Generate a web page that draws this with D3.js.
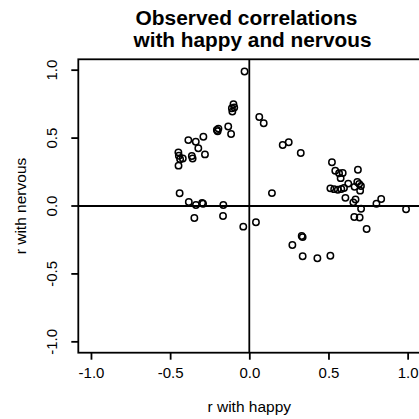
<!DOCTYPE html>
<html>
<head>
<meta charset="utf-8">
<script src="https://cdn.jsdelivr.net/npm/d3@7"></script>
<style>
html, body { margin: 0; padding: 0; background: #fff; }
svg { display: block; }
text { font-family: "Liberation Sans", Arial, Helvetica, sans-serif; fill: #000; }
</style>
</head>
<body>
<svg id="chart" width="419" height="419"></svg>
<script>
// r with happy
const happy = [
  -0.03,
  -0.10, -0.11, -0.095, -0.107,
  -0.205, -0.195, -0.20,
  -0.133, -0.115,
  -0.385, -0.338, -0.29,
  -0.322, -0.28,
  -0.363, -0.358,
  -0.448, -0.445, -0.42, -0.437,
  -0.447,
  -0.44, -0.382, -0.337, -0.298, -0.292, -0.164,
  -0.347, -0.166, -0.038, 0.042,
  0.063, 0.091,
  0.211, 0.249, 0.325,
  0.143,
  0.522,
  0.543, 0.567, 0.59, 0.577,
  0.686, 0.625,
  0.682, 0.694, 0.705, 0.665,
  0.70,
  0.512, 0.536, 0.559, 0.581, 0.598,
  0.607, 0.671, 0.657, 0.706,
  0.803, 0.833, 0.99,
  0.663, 0.697, 0.741,
  0.331, 0.337, 0.272, 0.337, 0.43, 0.512
];
// r with nervous
const nervous = [
  0.99,
  0.75, 0.72, 0.725, 0.695,
  0.56, 0.57, 0.55,
  0.585, 0.53,
  0.485, 0.473, 0.51,
  0.425, 0.38,
  0.368, 0.35,
  0.395, 0.37, 0.35, 0.345,
  0.297,
  0.094, 0.03, 0.007, 0.023, 0.017, 0.007,
  -0.088, -0.074, -0.152, -0.12,
  0.655, 0.609,
  0.449, 0.469, 0.39,
  0.095,
  0.322,
  0.26, 0.241, 0.243, 0.205,
  0.267, 0.165,
  0.177, 0.163, 0.147, 0.141,
  0.113,
  0.13, 0.124, 0.12, 0.125, 0.133,
  0.06, 0.048, 0.027, -0.02,
  0.017, 0.052, -0.024,
  -0.081, -0.085, -0.169,
  -0.221, -0.229, -0.287, -0.37, -0.385, -0.366
];
const tickValues = [-1.0, -0.5, 0.0, 0.5, 1.0];
const titleLines = ["Observed correlations", "with happy and nervous"];
const xLabel = "r with happy";
const yLabel = "r with nervous";

const svg = d3.select("#chart");
const pLeft = 78.3, pRight = 420.3, pTop = 59.3, pBottom = 352.7;
const x = d3.scaleLinear().domain([-1.08, 1.08]).range([pLeft, pRight]);
const y = d3.scaleLinear().domain([-1.08, 1.08]).range([pBottom, pTop]);
const fmt = d => d.toFixed(1);

// x axis
const gx = svg.append("g").attr("transform", `translate(0,${pBottom})`)
  .call(d3.axisBottom(x).tickValues(tickValues).tickFormat(fmt).tickSize(7).tickPadding(8));
gx.select(".domain").remove();
gx.selectAll("line").attr("stroke", "#000").attr("stroke-width", 1.8);
gx.selectAll("text").attr("font-size", 15).attr("fill", "#000");

// y axis
const gy = svg.append("g").attr("transform", `translate(${pLeft},0)`)
  .call(d3.axisLeft(y).tickValues(tickValues).tickFormat(fmt).tickSize(7).tickPadding(0));
gy.select(".domain").remove();
gy.selectAll("line").attr("stroke", "#000").attr("stroke-width", 1.8);
gy.selectAll(".tick").attr("transform", null);
gy.selectAll(".tick line").attr("y1", d => y(d)).attr("y2", d => y(d));
gy.selectAll("text")
  .attr("font-size", 15).attr("fill", "#000")
  .attr("x", null).attr("dy", null).attr("y", null)
  .attr("text-anchor", "middle")
  .attr("transform", d => `translate(${57 - pLeft},${y(d)}) rotate(-90)`);

// box
svg.append("rect").attr("x", pLeft).attr("y", pTop)
  .attr("width", pRight - pLeft).attr("height", pBottom - pTop)
  .attr("fill", "none").attr("stroke", "#000").attr("stroke-width", 1.8);

// reference lines at 0
svg.append("line").attr("x1", x(0)).attr("x2", x(0)).attr("y1", pTop).attr("y2", pBottom)
  .attr("stroke", "#000").attr("stroke-width", 1.8);
svg.append("line").attr("x1", pLeft).attr("x2", pRight).attr("y1", y(0)).attr("y2", y(0))
  .attr("stroke", "#000").attr("stroke-width", 1.8);

// points
const pts = happy.map((h, i) => ({h, n: nervous[i]}));
svg.append("g").selectAll("circle").data(pts).join("circle")
  .attr("cx", d => x(d.h)).attr("cy", d => y(d.n)).attr("r", 3.2)
  .attr("fill", "none").attr("stroke", "#000").attr("stroke-width", 1.5);

// title (two lines)
svg.append("text").attr("font-size", 19.5).attr("font-weight", "bold")
  .attr("text-anchor", "middle").attr("x", 246.5).attr("y", 24.8)
  .attr("textLength", 222).attr("lengthAdjust", "spacingAndGlyphs")
  .text(titleLines[0]);
svg.append("text").attr("font-size", 19.5).attr("font-weight", "bold")
  .attr("text-anchor", "middle").attr("x", 252.5).attr("y", 46.7)
  .attr("textLength", 238).attr("lengthAdjust", "spacingAndGlyphs")
  .text(titleLines[1]);

// axis titles
svg.append("text").attr("x", 249.3).attr("y", 411.5).attr("text-anchor", "middle")
  .attr("font-size", 15.5).text(xLabel);
svg.append("text").attr("transform", `translate(26,${y(0)}) rotate(-90)`)
  .attr("text-anchor", "middle").attr("font-size", 15.5).text(yLabel);
</script>
</body>
</html>
